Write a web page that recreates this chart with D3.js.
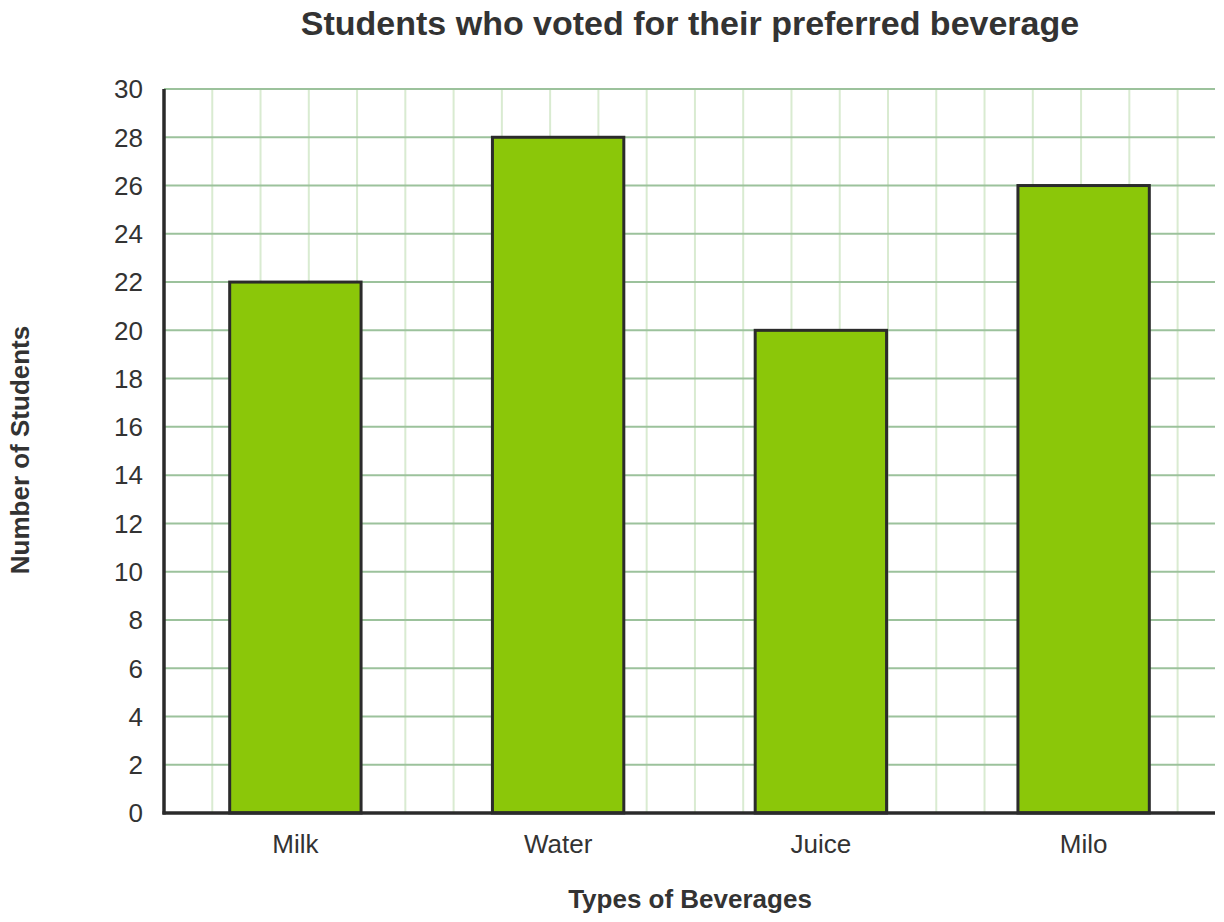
<!DOCTYPE html>
<html><head><meta charset="utf-8">
<script src="https://cdn.jsdelivr.net/npm/d3@7"></script>
<style>body{margin:0;background:#fff;} text{font-family:"Liberation Sans",Arial,sans-serif;fill:#333;}</style>
</head><body><svg id="c" width="1224" height="922"></svg>
<script>
const categories = ["Milk","Water","Juice","Milo"];
const values = [22,28,20,26];
const yTicks = [0,2,4,6,8,10,12,14,16,18,20,22,24,26,28,30];
const title = "Students who voted for their preferred beverage";
const xTitle = "Types of Beverages";
const yTitle = "Number of Students";

const svg = d3.select("#c");
const m = {l:164, r:1215, t:89, b:813};
const x = d3.scaleBand().domain(categories).range([m.l, m.r]).paddingInner(0.5).paddingOuter(0.25);
const y = d3.scaleLinear().domain([0,30]).range([m.b, m.t]);
const cell = y(0) - y(2);

// vertical grid (light)
const vx = d3.range(m.l + cell, m.r, cell);
svg.append("g").selectAll("line").data(vx).join("line")
  .attr("x1", d=>d).attr("x2", d=>d).attr("y1", m.t).attr("y2", m.b)
  .attr("stroke", "#d9ebd1").attr("stroke-width", 2);
// horizontal grid
svg.append("g").selectAll("line").data(yTicks.filter(d=>d>0)).join("line")
  .attr("x1", m.l).attr("x2", m.r).attr("y1", d=>y(d)).attr("y2", d=>y(d))
  .attr("stroke", "#9cc29c").attr("stroke-width", 2);

// bars
svg.append("g").selectAll("rect").data(categories).join("rect")
  .attr("x", d=>x(d)).attr("width", x.bandwidth())
  .attr("y", (d,i)=>y(values[i])).attr("height", (d,i)=>y(0)-y(values[i]))
  .attr("fill", "#8bc709").attr("stroke", "#2b2b2b").attr("stroke-width", 3);

// axes
svg.append("line").attr("x1", m.l).attr("x2", m.l).attr("y1", m.t).attr("y2", m.b+1.5)
  .attr("stroke", "#2b2b2b").attr("stroke-width", 3.5);
svg.append("line").attr("x1", m.l-1.5).attr("x2", m.r).attr("y1", m.b).attr("y2", m.b)
  .attr("stroke", "#2b2b2b").attr("stroke-width", 3.5);

// y tick labels
svg.append("g").selectAll("text").data(yTicks).join("text")
  .attr("x", 143).attr("y", d=>y(d)).attr("dy", "0.36em")
  .attr("text-anchor", "end").attr("font-size", 26).text(d=>d);
// x tick labels
svg.append("g").selectAll("text").data(categories).join("text")
  .attr("x", d=>x(d)+x.bandwidth()/2).attr("y", 853)
  .attr("text-anchor", "middle").attr("font-size", 26).text(d=>d);

svg.append("text").attr("x", 690).attr("y", 35).attr("text-anchor","middle")
  .attr("font-size", 34).attr("font-weight","bold").text(title);
svg.append("text").attr("x", 690).attr("y", 908).attr("text-anchor","middle")
  .attr("font-size", 26).attr("font-weight","bold").text(xTitle);
svg.append("text").attr("transform","translate(29,450) rotate(-90)").attr("text-anchor","middle")
  .attr("font-size", 26).attr("font-weight","bold").text(yTitle);
</script></body></html>
